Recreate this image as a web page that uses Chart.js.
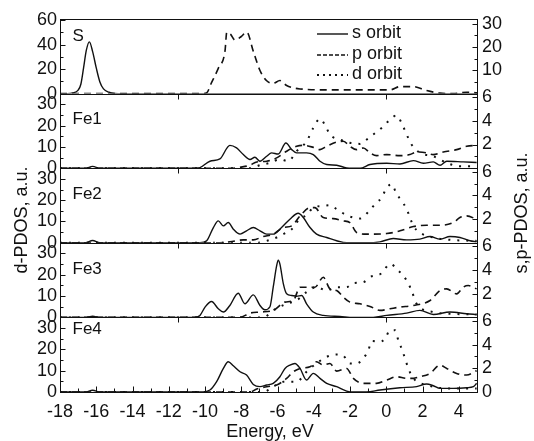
<!DOCTYPE html>
<html>
<head>
<meta charset="utf-8">
<title>PDOS of S and Fe sites</title>
<script src="https://cdn.jsdelivr.net/npm/chart.js@4.4.1/dist/chart.umd.min.js"></script>
<style>
  html, body { margin: 0; padding: 0; background: #fff; }
  #wrap { width: 534px; height: 441px; }
</style>
</head>
<body>
<div id="wrap"><canvas id="pdos-canvas" width="534" height="441"></canvas></div>
<script>
// panels from top to bottom
const panelNames = ["S", "Fe1", "Fe2", "Fe3", "Fe4"];

// [energy eV, PDOS]; s and p use the right axis, d the left axis
const S_s = [[-18,0],[-17.6,0],[-17.3,0.3],[-17.0,1.5],[-16.85,4],[-16.7,11],[-16.55,18.5],[-16.38,22.2],[-16.2,18],[-16.0,11],[-15.8,5],[-15.6,2],[-15.3,0.6],[-15.0,0.1],[-14.5,0],[5,0]];
const S_p = [[-18,0],[-10.2,0],[-9.9,0.4],[-9.69,3.9],[-9.27,10.8],[-8.9,18.2],[-8.8,26.4],[-8.6,25.5],[-8.35,22.9],[-8.0,24.5],[-7.7,26.4],[-7.34,18.2],[-6.97,9.9],[-6.6,5.5],[-6.25,4.4],[-5.87,5.6],[-5.5,3.5],[-5.1,2.4],[-4.76,2.0],[-3.3,1.6],[-1.45,1.6],[0.2,1.6],[0.75,3.0],[1.49,3.0],[2.22,1.3],[2.96,0.2],[3.7,0],[4.43,0.6],[5,0.3]];

const Fe1_s = [[-18,0],[-16.6,0],[-16.2,0.15],[-15.8,0],[-10.5,0],[-10.28,0.05],[-9.73,0.59],[-9.18,0.78],[-8.63,1.93],[-8.26,1.71],[-7.89,1.15],[-7.52,0.73],[-7.25,0.92],[-6.97,0.59],[-6.6,1.01],[-6.33,1.29],[-5.96,1.2],[-5.54,2.13],[-5.22,1.57],[-4.95,1.29],[-4.4,1.29],[-4.03,1.15],[-3.66,0.59],[-3.29,0.31],[-2.74,0.25],[-2.19,0.03],[-1.45,0],[-0.9,0.31],[0.02,0.42],[0.75,0.36],[1.49,0.64],[2.04,0.42],[2.59,0.53],[2.96,0.25],[3.33,0.59],[4.24,0.53],[4.98,0.48]];
const Fe1_p = [[-18,0],[-8.44,0],[-8.07,0.08],[-7.52,0.25],[-7.15,0.53],[-6.6,0.59],[-6.05,0.87],[-5.5,1.43],[-4.95,1.85],[-4.58,1.93],[-4.03,1.76],[-3.66,1.57],[-3.29,1.85],[-2.74,2.21],[-2.37,2.27],[-2.01,1.85],[-1.64,1.57],[-1.27,1.71],[-0.9,1.29],[-0.54,1.06],[0.02,1.15],[0.75,1.06],[1.3,1.15],[1.67,1.37],[2.22,1.29],[2.59,1.15],[3.14,1.37],[3.88,1.57],[4.43,1.85],[4.98,1.93]];
const Fe1_d = [[-18,0],[-7.52,0],[-6.97,1.4],[-6.42,2.5],[-5.87,4.1],[-5.41,3.3],[-4.95,8.0],[-4.4,12.6],[-4.03,18.9],[-3.66,23.2],[-3.39,20.4],[-3.11,15.8],[-2.56,13.4],[-2.01,11.9],[-1.45,11.4],[-1.09,13.4],[-0.72,15.8],[-0.26,18.9],[0.2,22.8],[0.57,24.8],[0.84,21.2],[1.12,15.8],[1.39,11.1],[1.85,7.2],[2.59,5.6],[3.33,2.5],[4.06,0.9],[4.98,0.9]];

const Fe2_s = [[-18,0],[-16.6,0],[-16.2,0.2],[-15.8,0],[-10.5,0],[-10.28,0],[-9.91,0.17],[-9.54,1.29],[-9.27,1.85],[-8.99,1.43],[-8.72,1.71],[-8.44,1.15],[-8.07,0.73],[-7.71,1.01],[-7.34,1.29],[-6.97,1.01],[-6.6,0.73],[-6.24,0.73],[-5.78,1.29],[-5.32,1.99],[-4.86,2.49],[-4.58,2.13],[-4.21,1.29],[-3.85,0.73],[-3.29,0.45],[-2.74,0.17],[-2.19,0],[-1.09,0],[-0.35,0.08],[0.38,0.36],[1.12,0.25],[1.85,0.31],[2.41,0.53],[2.96,0.31],[3.51,0.53],[4.06,0.45],[4.61,0.17],[4.98,0.08]];
const Fe2_p = [[-18,0],[-9.18,0],[-8.63,0.08],[-7.89,0.25],[-7.34,0.25],[-6.79,0.53],[-6.24,0.73],[-5.68,1.29],[-5.22,1.43],[-4.76,2.27],[-4.21,2.97],[-3.94,2.97],[-3.48,2.13],[-2.93,2.04],[-2.37,1.85],[-2.01,1.71],[-1.64,0.87],[-1.09,0.73],[0.02,0.78],[0.75,1.01],[1.49,1.37],[2.22,1.48],[2.96,1.48],[3.69,1.71],[4.06,2.13],[4.43,2.27],[4.98,1.99]];
const Fe2_d = [[-18,0],[-7.15,0],[-6.6,0.9],[-6.05,2.5],[-5.68,4.1],[-5.22,6.4],[-4.76,11.4],[-4.4,12.9],[-4.03,16.5],[-3.48,17.3],[-3.11,17.6],[-2.74,15.8],[-2.19,12.9],[-1.82,11.9],[-1.45,11.4],[-0.94,15.0],[-0.63,18.1],[-0.26,21.2],[0.02,25.9],[0.29,27.5],[0.57,22.8],[0.84,19.7],[1.12,15.8],[1.49,8.0],[1.85,4.8],[2.59,2.5],[3.51,1.4],[4.98,0.9]];

const Fe3_s = [[-18,0],[-16.6,0],[-16.2,0.1],[-15.8,0],[-10.6,0],[-10.28,0.17],[-10.0,0.87],[-9.64,1.34],[-9.27,0.73],[-8.99,0.45],[-8.63,1.01],[-8.17,2.04],[-7.8,1.15],[-7.34,1.9],[-6.97,1.01],[-6.7,0.64],[-6.42,0.9],[-6.24,2.55],[-6.05,4.37],[-5.96,4.84],[-5.87,4.5],[-5.68,2.83],[-5.5,1.99],[-5.22,1.85],[-4.95,1.79],[-4.67,1.85],[-4.4,1.15],[-4.03,0.45],[-3.48,0.17],[-2.56,0.08],[-1.82,0],[-0.72,0],[0.02,0.17],[1.12,0.36],[1.85,0.59],[2.59,0.25],[3.51,0.45],[4.43,0.31],[4.98,0.25]];
const Fe3_p = [[-18,0],[-8.07,0],[-7.52,0.36],[-6.97,0.45],[-6.24,0.59],[-5.59,1.29],[-5.13,1.43],[-4.76,2.55],[-4.21,2.55],[-3.94,2.55],[-3.48,3.39],[-3.11,2.41],[-2.74,2.27],[-2.37,1.71],[-2.01,1.29],[-1.45,1.15],[-0.9,0.92],[-0.35,0.59],[0.2,0.73],[0.75,0.87],[1.49,1.01],[2.41,1.43],[2.96,2.27],[3.33,2.41],[3.88,1.99],[4.24,2.55],[4.52,2.69],[4.98,2.41]];
const Fe3_d = [[-18,0],[-6.79,0],[-6.24,3.3],[-5.5,6.4],[-4.95,8.0],[-4.4,11.9],[-3.85,14.2],[-3.29,12.6],[-2.74,14.2],[-2.19,14.2],[-1.82,16.1],[-1.27,16.5],[-0.9,18.9],[-0.26,20.7],[0.2,25.1],[0.66,22.0],[1.12,17.3],[1.39,12.6],[1.67,6.4],[2.59,2.5],[3.51,1.7],[4.98,1.4]];

const Fe4_s = [[-18,0],[-16.6,0],[-16.2,0.15],[-15.8,0],[-10.28,0],[-9.73,0.17],[-9.36,0.87],[-8.99,1.99],[-8.72,2.55],[-8.44,2.21],[-8.07,1.71],[-7.71,1.43],[-7.34,0.64],[-6.97,0.45],[-6.6,0.59],[-6.24,0.73],[-5.87,1.29],[-5.59,1.99],[-5.32,2.27],[-5.04,2.41],[-4.76,1.99],[-4.4,1.01],[-4.03,1.57],[-3.66,1.15],[-3.29,0.73],[-2.74,0.45],[-2.19,0.08],[-1.82,0],[-1.09,0],[-0.35,0.17],[0.75,0.36],[1.67,0.45],[2.22,0.67],[2.59,0.53],[2.96,0.31],[3.69,0.31],[4.43,0.36],[4.8,0.45],[4.98,0.73]];
const Fe4_p = [[-18,0],[-7.52,0],[-7.15,0.25],[-6.6,0.45],[-6.05,0.59],[-5.5,1.15],[-5.13,1.71],[-4.76,1.99],[-4.21,2.13],[-3.85,2.55],[-3.48,2.27],[-3.11,2.41],[-2.74,1.76],[-2.19,1.99],[-1.82,1.15],[-1.27,0.73],[-0.54,0.73],[0.02,1.01],[0.57,1.29],[1.12,1.15],[1.49,1.15],[1.85,1.29],[2.41,1.57],[2.96,2.27],[3.33,1.99],[3.88,1.57],[4.43,1.43],[4.98,1.8]];
const Fe4_d = [[-18,0],[-6.79,0],[-6.24,2.5],[-5.68,4.8],[-4.95,4.8],[-4.4,9.5],[-3.85,13.4],[-3.29,16.5],[-2.74,17.6],[-2.37,17.0],[-2.01,13.4],[-1.64,13.4],[-1.27,15.8],[-0.99,19.7],[-0.81,23.9],[-0.44,23.6],[-0.08,24.8],[0.2,29.0],[0.48,29.0],[0.66,24.3],[0.84,20.4],[1.03,15.8],[1.21,11.1],[1.49,6.4],[2.22,3.3],[3.33,1.7],[4.98,1.7]];

// axis ranges and tick lists
const leftMax = [61, 35, 35, 35, 35];
const rightMax = [32, 6.3, 6.3, 6.3, 6.3];
const sLeftTicks = [0, 10, 20, 30, 40, 50, 60];
const sRightTicks = [0, 5, 10, 15, 20, 25, 30];
const feLeftTicks = [0, 5, 10, 15, 20, 25, 30];
const feRightTicks = [0, 1, 2, 3, 4, 5, 6];
const energyTicks = [-18, -16, -14, -12, -10, -8, -6, -4, -2, 0, 2, 4];
const legendLabels = ["s orbit", "p orbit", "d orbit"];
const boundaryTicks = [-11.5, 0];

const ink = "#111";
const fontFamily = "'Liberation Sans', Arial, Helvetica, sans-serif";
Chart.defaults.font.family = fontFamily;
Chart.defaults.font.size = 18;
Chart.defaults.color = ink;

const lineStyle = {
  s: { borderDash: [], borderWidth: 1.4 },
  p: { borderDash: [7, 5], borderWidth: 1.6 },
  d: { borderDash: [2, 7], borderWidth: 2 },
};

const series = [
  { panel: 0, orb: "s", pts: S_s },
  { panel: 0, orb: "p", pts: S_p },
  { panel: 1, orb: "s", pts: Fe1_s },
  { panel: 1, orb: "p", pts: Fe1_p },
  { panel: 1, orb: "d", pts: Fe1_d },
  { panel: 2, orb: "s", pts: Fe2_s },
  { panel: 2, orb: "p", pts: Fe2_p },
  { panel: 2, orb: "d", pts: Fe2_d },
  { panel: 3, orb: "s", pts: Fe3_s },
  { panel: 3, orb: "p", pts: Fe3_p },
  { panel: 3, orb: "d", pts: Fe3_d },
  { panel: 4, orb: "s", pts: Fe4_s },
  { panel: 4, orb: "p", pts: Fe4_p },
  { panel: 4, orb: "d", pts: Fe4_d },
];

const datasets = series.map((s) => ({
  label: panelNames[s.panel] + " " + s.orb,
  data: s.pts.map(([x, y]) => ({ x, y })),
  yAxisID: (s.orb === "d" ? "L" : "R") + s.panel,
  borderColor: ink,
  borderDash: lineStyle[s.orb].borderDash,
  borderWidth: lineStyle[s.orb].borderWidth,
  pointRadius: 0,
  fill: false,
  cubicInterpolationMode: "monotone",
}));

function yAxis(side, max, tickList, labelEvery, hideZero) {
  return {
    type: "linear",
    position: side,
    stack: side,
    stackWeight: 1,
    min: 0,
    max: max,
    grid: { display: false, drawTicks: false },
    border: { display: false },
    afterBuildTicks: (scale) => {
      scale.ticks = tickList.map((v) => ({ value: v }));
    },
    ticks: {
      autoSkip: false,
      padding: side === "left" ? 3 : 5,
      color: ink,
      callback: (v) => (v % labelEvery === 0 && !(hideZero && v === 0) ? v : ""),
    },
    afterFit: (scale) => {
      scale.width = side === "left" ? 60 : 57;
    },
  };
}

const scales = {
  x: {
    type: "linear",
    position: "bottom",
    min: -18,
    max: 5,
    grid: { display: false, drawTicks: false },
    border: { display: false },
    afterBuildTicks: (scale) => {
      scale.ticks = energyTicks.map((v) => ({ value: v }));
    },
    ticks: { autoSkip: false, padding: 9, maxRotation: 0 },
    afterFit: (scale) => {
      scale.height = 49;
    },
  },
};
// left stack: last defined ends on top, right stack: first defined ends on top
for (let i = 4; i >= 0; i--) {
  scales["L" + i] = i === 0 ? yAxis("left", leftMax[i], sLeftTicks, 20, false) : yAxis("left", leftMax[i], feLeftTicks, 10, false);
}
for (let i = 0; i < 5; i++) {
  scales["R" + i] = i === 0 ? yAxis("right", rightMax[i], sRightTicks, 10, true) : yAxis("right", rightMax[i], feRightTicks, 2, i !== 4);
}

const panelLabelOffset = [17, 25, 26, 26, 12];

const decorations = {
  id: "decorations",
  afterDraw(chart) {
    const { ctx } = chart;
    const xs = chart.scales.x;
    const left = Math.round(xs.left) + 0.5;
    const right = Math.round(xs.right) + 0.5;
    ctx.save();
    ctx.strokeStyle = ink;
    ctx.fillStyle = ink;
    ctx.lineWidth = 1;
    ctx.setLineDash([]);

    panelNames.forEach((name, i) => {
      const ly = chart.scales["L" + i];
      const ry = chart.scales["R" + i];
      const top = Math.round(ly.top) + 0.5;
      const bottom = Math.round(ly.bottom) + 0.5;
      ctx.strokeRect(left, top, right - left, bottom - top);

      ctx.beginPath();
      ly.ticks.forEach((t) => {
        if (t.value <= ly.min || t.value >= ly.max) return;
        const len = t.label !== "" ? 5 : 3;
        const y = Math.round(ly.getPixelForValue(t.value)) + 0.5;
        ctx.moveTo(left, y);
        ctx.lineTo(left + len, y);
      });
      ry.ticks.forEach((t) => {
        if (t.value <= ry.min || t.value >= ry.max) return;
        const len = t.label !== "" ? 5 : 3;
        const y = Math.round(ry.getPixelForValue(t.value)) + 0.5;
        ctx.moveTo(right, y);
        ctx.lineTo(right - len, y);
      });
      if (i > 0) {
        boundaryTicks.forEach((e) => {
          const x = Math.round(xs.getPixelForValue(e)) + 0.5;
          ctx.moveTo(x, top);
          ctx.lineTo(x, top + 5);
        });
      }
      ctx.stroke();

      ctx.font = "17px " + fontFamily;
      ctx.textAlign = "left";
      ctx.textBaseline = "middle";
      ctx.fillText(name, left + 12, top + panelLabelOffset[i]);
    });

    // energy ticks on the bottom panel, pointing inward
    const lastPanel = chart.scales.L4;
    const base = Math.round(lastPanel.bottom) + 0.5;
    ctx.beginPath();
    for (let e = xs.min + 1; e < xs.max; e++) {
      const x = Math.round(xs.getPixelForValue(e)) + 0.5;
      ctx.moveTo(x, base);
      ctx.lineTo(x, base - (e % 2 === 0 ? 6 : 4));
    }
    ctx.stroke();

    // legend inside the top panel
    ctx.font = "18px " + fontFamily;
    const legendX = 317;
    const legendRows = [33, 54, 74];
    ["s", "p", "d"].forEach((orb, k) => {
      ctx.beginPath();
      ctx.setLineDash(orb === "p" ? [4, 2] : orb === "d" ? [2, 4] : []);
      ctx.lineWidth = lineStyle[orb].borderWidth;
      ctx.moveTo(legendX, legendRows[k] + 1);
      ctx.lineTo(legendX + 31, legendRows[k] + 1);
      ctx.stroke();
      ctx.setLineDash([]);
      ctx.fillText(legendLabels[k], legendX + 35, legendRows[k]);
    });

    // axis titles
    ctx.textAlign = "center";
    ctx.fillText("Energy, eV", 270, 432);
    ctx.save();
    ctx.translate(22, 220);
    ctx.rotate(-Math.PI / 2);
    ctx.fillText("d-PDOS, a.u.", 0, 0);
    ctx.restore();
    ctx.save();
    ctx.translate(522, 213);
    ctx.rotate(-Math.PI / 2);
    ctx.fillText("s,p-PDOS, a.u.", 0, 0);
    ctx.restore();

    ctx.restore();
  },
};

new Chart(document.getElementById("pdos-canvas").getContext("2d"), {
  type: "line",
  data: { datasets },
  options: {
    responsive: false,
    animation: false,
    devicePixelRatio: 1,
    layout: { padding: { top: 19, left: 0, right: 0, bottom: 0 } },
    plugins: { legend: { display: false }, tooltip: { enabled: false } },
    scales,
  },
  plugins: [decorations],
});
</script>
</body>
</html>
